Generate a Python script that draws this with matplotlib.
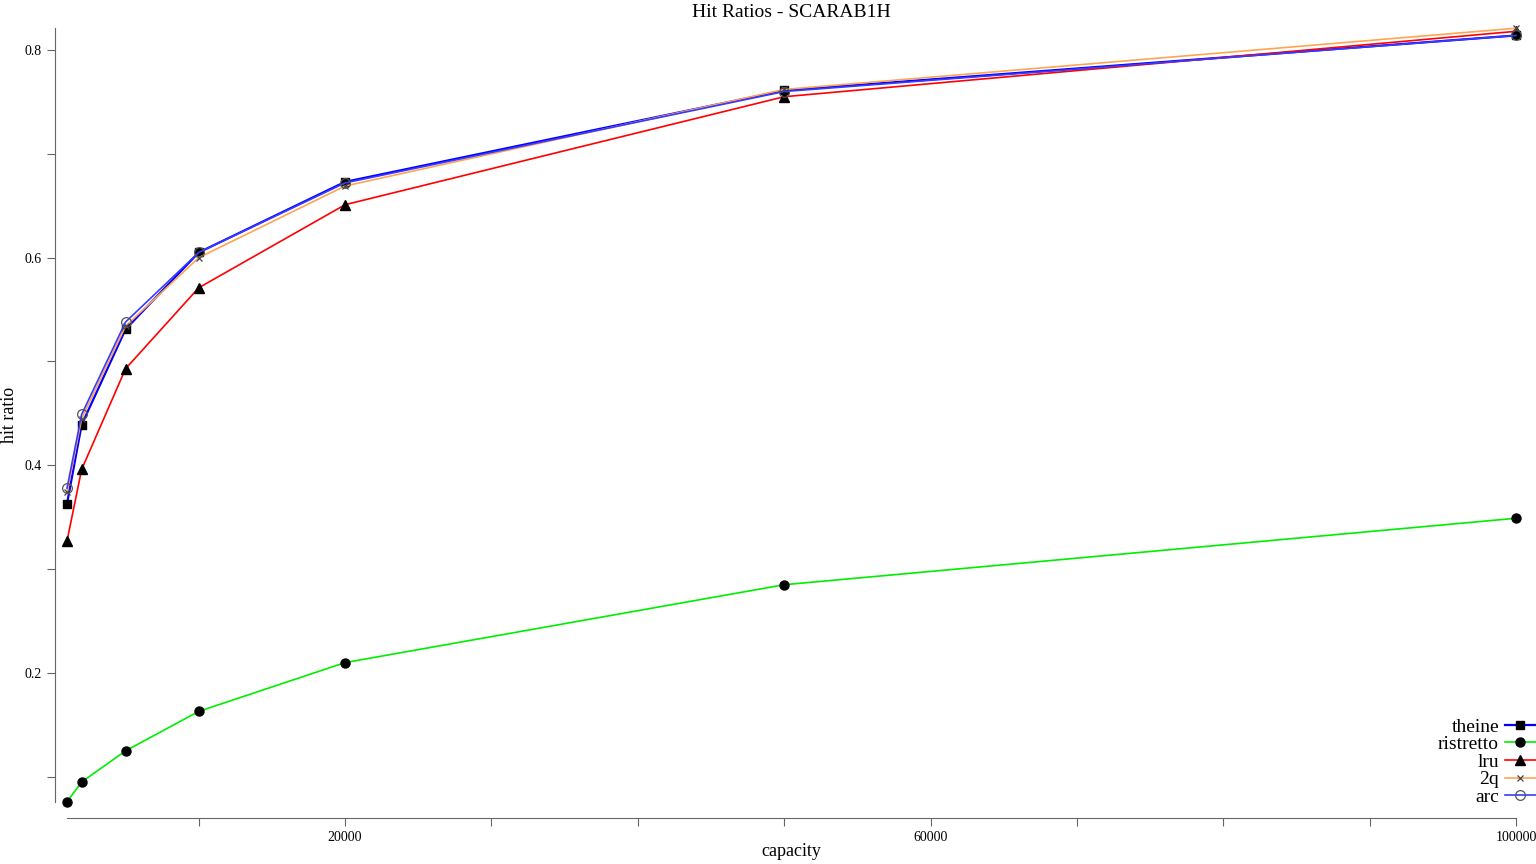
import matplotlib
matplotlib.use("Agg")
import matplotlib.pyplot as plt

plt.rcParams['font.family'] = ['Liberation Serif', 'DejaVu Serif']

capacity = [1000, 2000, 5000, 10000, 20000, 50000, 100000]

theine = [0.363, 0.439, 0.531, 0.605, 0.673, 0.761, 0.814]
ristretto = [0.076, 0.095, 0.125, 0.163, 0.210, 0.285, 0.349]
lru = [0.327, 0.396, 0.493, 0.571, 0.651, 0.755, 0.818]
twoq = [0.374, 0.445, 0.534, 0.600, 0.669, 0.762, 0.821]
arc = [0.378, 0.449, 0.538, 0.605, 0.672, 0.760, 0.814]

xticks = [10000, 20000, 30000, 40000, 50000, 60000, 70000, 80000, 90000, 100000]
xlabels = ["", "20000", "", "", "", "60000", "", "", "", "100000"]
yticks = [0.1, 0.2, 0.3, 0.4, 0.5, 0.6, 0.7, 0.8]
ylabels = ["", "0.2", "", "0.4", "", "0.6", "", "0.8"]

fig = plt.figure(figsize=(15.36, 8.64), dpi=100)
# axes box spans the data range, spines pushed outward
ymin, ymax = 0.076, 0.821
top_px = 50 - (ymax - 0.8) * 1038.3
bot_px = 50 + (0.8 - ymin) * 1038.3
ax = fig.add_axes([67 / 1536, 1 - bot_px / 864, 1449 / 1536, (bot_px - top_px) / 864])

ax.plot(capacity, theine, color="#0000ff", lw=1.6, marker="s", ms=5.5,
        mfc="black", mec="black", label="theine", clip_on=False)
ax.plot(capacity, ristretto, color="#00ee00", lw=1.2, marker="o", ms=6.5,
        mfc="black", mec="black", label="ristretto", clip_on=False)
ax.plot(capacity, lru, color="#ff0000", lw=1.2, marker="^", ms=6.5,
        mfc="black", mec="black", label="lru", clip_on=False)
ax.plot(capacity, twoq, color="#ffa552", lw=1.2, marker="x", ms=5,
        mfc="none", mec="#444444", mew=0.9, label="2q", clip_on=False)
ax.plot(capacity, arc, color="#3a3aff", lw=1.2, marker="o", ms=7,
        mfc="none", mec="#555555", mew=0.9, label="arc", clip_on=False)

ax.set_xlim(1000, 100000)
ax.set_ylim(ymin, ymax)
ax.set_xticks(xticks)
ax.set_xticklabels(xlabels)
ax.set_yticks(yticks)
ax.set_yticklabels(ylabels)

for side in ["top", "right"]:
    ax.spines[side].set_visible(False)
ax.spines["left"].set_position(("outward", 8.6))
ax.spines["bottom"].set_position(("outward", 11.5))
for side in ["left", "bottom"]:
    ax.spines[side].set_color("#666666")
ax.tick_params(colors="#666666", labelcolor="black", labelsize=10, length=6, direction="out")

ax.set_title("Hit Ratios - SCARAB1H", fontsize=14, pad=8)
fig.text(791 / 1536, 1 - 852 / 864, "capacity", ha="center", va="center", fontsize=13)
fig.text(10 / 1536, 1 - 415 / 864, "hit ratio", ha="center", va="center", rotation=90, fontsize=13)

fig.legend(loc="lower right", bbox_to_anchor=(1.0, 1 - 806 / 864), frameon=False,
           markerfirst=False, fontsize=14, handlelength=1.6, handletextpad=0.3,
           labelspacing=0.0, borderpad=0, borderaxespad=0)

fig.savefig("out.png", dpi=100)
